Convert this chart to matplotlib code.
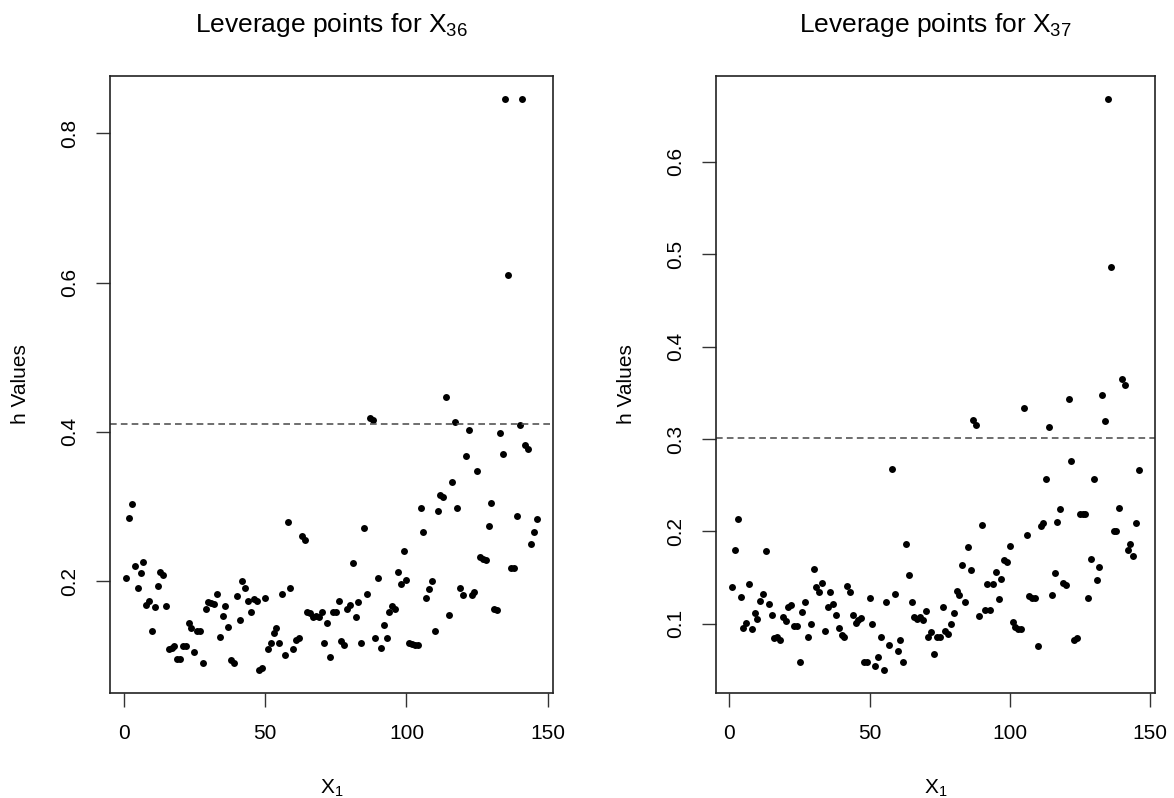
import numpy as np
import matplotlib.pyplot as plt

plt.rcParams['font.family'] = ['Liberation Sans', 'DejaVu Sans']
plt.rcParams['mathtext.default'] = 'regular'

# leverage (hat) values, one per observation, for the two fitted models
h_x36 = [0.204, 0.285, 0.303, 0.220, 0.191, 0.211, 0.226, 0.168, 0.174, 0.133,
         0.165, 0.194, 0.213, 0.209, 0.167, 0.109, 0.111, 0.113, 0.096, 0.096,
         0.113, 0.113, 0.144, 0.137, 0.105, 0.133, 0.133, 0.091, 0.163, 0.172,
         0.171, 0.170, 0.183, 0.126, 0.154, 0.167, 0.139, 0.094, 0.091, 0.180,
         0.148, 0.200, 0.191, 0.174, 0.159, 0.176, 0.173, 0.081, 0.084, 0.178,
         0.109, 0.117, 0.131, 0.137, 0.118, 0.183, 0.101, 0.279, 0.191, 0.109,
         0.122, 0.124, 0.261, 0.255, 0.159, 0.157, 0.152, 0.153, 0.152, 0.159,
         0.118, 0.144, 0.098, 0.159, 0.159, 0.174, 0.120, 0.115, 0.163, 0.168,
         0.224, 0.152, 0.172, 0.118, 0.272, 0.183, 0.418, 0.416, 0.124, 0.205,
         0.111, 0.142, 0.124, 0.159, 0.167, 0.163, 0.213, 0.196, 0.241, 0.202,
         0.117, 0.116, 0.115, 0.115, 0.298, 0.266, 0.178, 0.189, 0.200, 0.133,
         0.294, 0.316, 0.313, 0.447, 0.155, 0.333, 0.413, 0.298, 0.191, 0.181,
         0.368, 0.403, 0.181, 0.185, 0.348, 0.232, 0.230, 0.228, 0.274, 0.305,
         0.163, 0.161, 0.399, 0.370, 0.846, 0.610, 0.218, 0.218, 0.287, 0.409,
         0.846, 0.382, 0.377, 0.250, 0.266, 0.283]

h_x37 = [0.140, 0.180, 0.213, 0.129, 0.096, 0.101, 0.143, 0.094, 0.112, 0.105,
         0.125, 0.132, 0.179, 0.122, 0.110, 0.085, 0.086, 0.083, 0.108, 0.103,
         0.118, 0.121, 0.098, 0.098, 0.059, 0.113, 0.124, 0.086, 0.100, 0.159,
         0.140, 0.134, 0.144, 0.092, 0.118, 0.135, 0.122, 0.110, 0.096, 0.088,
         0.086, 0.141, 0.135, 0.110, 0.101, 0.104, 0.106, 0.059, 0.059, 0.128,
         0.100, 0.054, 0.064, 0.086, 0.050, 0.124, 0.077, 0.268, 0.132, 0.071,
         0.083, 0.059, 0.186, 0.153, 0.124, 0.107, 0.105, 0.107, 0.104, 0.114,
         0.086, 0.091, 0.068, 0.086, 0.086, 0.118, 0.092, 0.089, 0.100, 0.112,
         0.136, 0.131, 0.164, 0.124, 0.183, 0.158, 0.321, 0.315, 0.109, 0.207,
         0.115, 0.143, 0.115, 0.143, 0.156, 0.127, 0.149, 0.169, 0.167, 0.184,
         0.102, 0.097, 0.095, 0.095, 0.334, 0.196, 0.130, 0.128, 0.128, 0.076,
         0.206, 0.209, 0.257, 0.313, 0.131, 0.155, 0.210, 0.224, 0.144, 0.142,
         0.343, 0.276, 0.083, 0.085, 0.219, 0.219, 0.219, 0.128, 0.170, 0.257,
         0.148, 0.162, 0.348, 0.320, 0.668, 0.486, 0.200, 0.200, 0.225, 0.365,
         0.359, 0.180, 0.186, 0.173, 0.209, 0.267]

cutoff_x36 = 0.411
cutoff_x37 = 0.301

x_ticks = [0, 50, 100, 150]
y_ticks_x36 = [0.2, 0.4, 0.6, 0.8]
y_ticks_x37 = [0.1, 0.2, 0.3, 0.4, 0.5, 0.6]


def r_lim(v):
    # base-R style axis range: data range padded by 4% on each side
    lo, hi = np.min(v), np.max(v)
    d = 0.04 * (hi - lo)
    return lo - d, hi + d


def leverage_panel(ax, h, cutoff, yticks, sub):
    idx = np.arange(1, len(h) + 1)
    ax.plot(idx, h, 'o', color='black', markersize=5, markeredgewidth=0)
    ax.axhline(cutoff, color='#555555', lw=1.2, ls=(0, (4, 2.5)))
    ax.set_xlim(r_lim(idx))
    ax.set_ylim(r_lim(h))
    ax.set_xticks(x_ticks)
    ax.set_yticks(yticks)
    ax.set_yticklabels(['%g' % t for t in yticks], rotation=90, va='center')
    ax.tick_params(length=10, width=1, color='#333333', labelsize=15, pad=12)
    for s in ax.spines.values():
        s.set_linewidth(1.2)
        s.set_color('#222222')
    ax.set_title('Leverage points for X$_{%s}$' % sub, fontsize=19, pad=32)
    ax.set_xlabel('X$_1$', fontsize=15, labelpad=25)
    ax.set_ylabel('h Values', fontsize=15, labelpad=22)


fig = plt.figure(figsize=(11.74, 7.98), dpi=100)

ax0 = fig.add_axes([110 / 1174, 105 / 798, 443 / 1174, 617 / 798])
leverage_panel(ax0, h_x36, cutoff_x36, y_ticks_x36, '36')

ax1 = fig.add_axes([716 / 1174, 105 / 798, 439 / 1174, 617 / 798])
leverage_panel(ax1, h_x37, cutoff_x37, y_ticks_x37, '37')

plt.savefig('out.png', dpi=100)
